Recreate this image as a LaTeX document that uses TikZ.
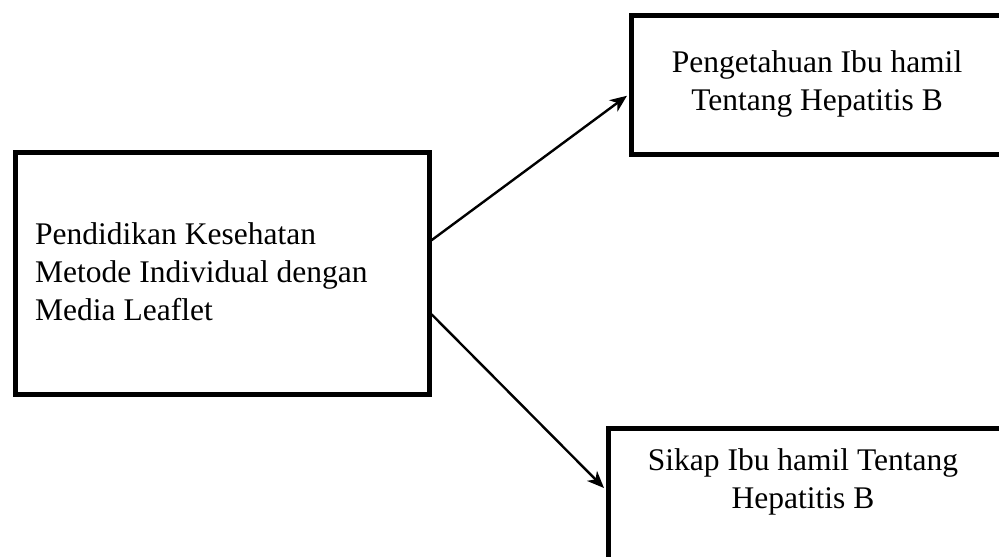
\documentclass[tikz,border=0pt]{standalone}
\usepackage{fontspec}
\setmainfont{Liberation Serif}
\usetikzlibrary{arrows.meta}
\begin{document}
\begin{tikzpicture}[x=1pt,y=-1pt,
  box/.style={draw=black, line width=4.5pt, rectangle, inner sep=0pt, anchor=north west},
  txt/.style={font=\fontsize{31.5}{38}\selectfont, inner sep=0pt},
  conn/.style={line width=2.4pt, -{Stealth[length=17pt,width=14pt,inset=5pt]}}]
\useasboundingbox (0,0) rectangle (999,557);
\clip (0,0) rectangle (999,557);
\fill[white] (0,0) rectangle (999,557);
% boxes
\node[box, minimum width=414pt, minimum height=242pt] (left) at (13,150) {};
\node[box, minimum width=380pt, minimum height=139pt] (top) at (629,13) {};
\node[box, minimum width=393pt, minimum height=200pt] (bot) at (606,426) {};
% texts
\node[txt, anchor=base west, align=left] (lefttxt) at (35,320)
  {Pendidikan Kesehatan\\Metode Individual dengan\\Media Leaflet};
\node[txt, anchor=base, align=center] (toptxt) at (817,110)
  {Pengetahuan Ibu hamil\\Tentang Hepatitis B};
\node[txt, anchor=base, align=center] (bottxt) at (803,508)
  {Sikap Ibu hamil Tentang\\Hepatitis B};
% connectors
\coordinate (s1) at ([yshift=33pt]left.east);
\coordinate (s2) at ([yshift=-41pt]left.east);
\coordinate (e1) at ([yshift=-11pt, xshift=-2pt]top.west);
\coordinate (e2) at ([yshift=-62pt, xshift=-2pt]bot.north west);
\draw[conn] (s1) -- (e1);
\draw[conn] (s2) -- (e2);
\end{tikzpicture}
\end{document}
